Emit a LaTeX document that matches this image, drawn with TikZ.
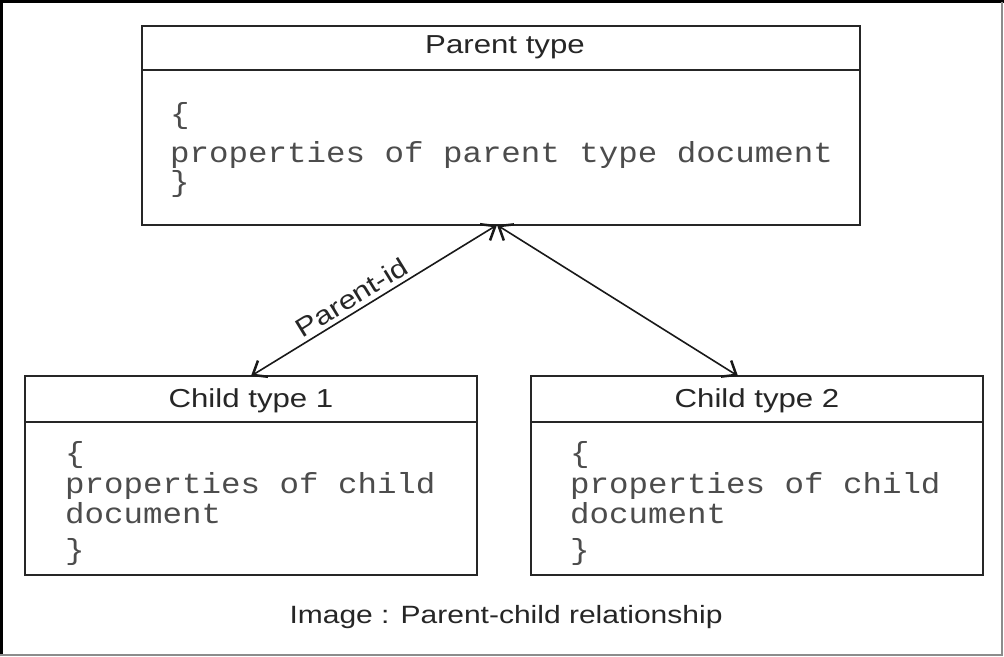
\documentclass[tikz,border=0pt]{standalone}
\usepackage{fontspec}
\setmainfont{Liberation Sans}[FakeStretch=1.2]
\newfontfamily\codefont{Liberation Mono}[FakeStretch=1.12]
\usetikzlibrary{arrows.meta,calc}

\tikzset{
  box/.style={draw=black!85, line width=2pt, outer sep=0pt, inner sep=0pt,
              minimum width=452pt, minimum height=199pt, anchor=north west},
  rule/.style={draw=black!85, line width=2pt},
  head/.style={anchor=base, text=black!85, inner sep=0pt,
               font=\fontsize{26}{30}\selectfont},
  code/.style={anchor=base west, text=black!70, inner sep=0pt,
               font=\codefont\fontsize{29}{34}\selectfont},
  conn/.style={draw=black!90, line width=1.6pt,
               {Straight Barb[length=12pt,width=19pt,line width=2.5pt]}-{Straight Barb[length=12pt,width=19pt,line width=2.5pt]}},
  lbl/.style={sloped, above, inner sep=4pt, text=black!85,
              font=\fontsize{26}{30}\selectfont}
}

\begin{document}
\begin{tikzpicture}[x=1pt,y=-1pt]
  \useasboundingbox (0,0) rectangle (1004,656);
  \fill[white] (0,0) rectangle (1004,656);

  % outer frame: dark on the left and top, light on the right and bottom
  \draw[black, line width=3pt] (1.5,656) -- (1.5,1.5) -- (1004,1.5);
  \draw[black!45, line width=2pt] (1002,1.5) -- (1002,655) -- (0,655);

  % parent type
  \node[box, minimum width=718pt] (parent) at (142,26) {};
  \draw[rule] ($(parent.north west)+(0,44)$) -- ($(parent.north east)+(0,44)$);
  \node[head] (parenthead) at (505,53) {Parent type};
  \node[code] (p1) at (170,123) {\{};
  \node[code] (p2) at (170,162) {properties of parent type document};
  \node[code] (p3) at (170,191) {\}};

  % child type 1
  \node[box] (child1) at (25,376) {};
  \draw[rule] ($(child1.north west)+(0,46)$) -- ($(child1.north east)+(0,46)$);
  \node[head] (c1head) at (251,407) {Child type 1};
  \node[code] (a1) at (65,462) {\{};
  \node[code] (a2) at (65,493) {properties of child};
  \node[code] (a3) at (65,523) {document};
  \node[code] (a4) at (65,559) {\}};

  % child type 2
  \node[box] (child2) at (531,376) {};
  \draw[rule] ($(child2.north west)+(0,46)$) -- ($(child2.north east)+(0,46)$);
  \node[head] (c2head) at (757,407) {Child type 2};
  \node[code] (b1) at (570,462) {\{};
  \node[code] (b2) at (570,493) {properties of child};
  \node[code] (b3) at (570,523) {document};
  \node[code] (b4) at (570,559) {\}};

  % relations
  \draw[conn] ([xshift=-4pt]parent.south) -- node[lbl, pos=0.56] {Parent-id} (child1.north);
  \draw[conn] ([xshift=-4pt]parent.south) -- ([xshift=-19pt]child2.north);

  % caption
  \node[head, font=\fontsize{25}{30}\selectfont] (caption) at (506,623) {Image : Parent-child relationship};
\end{tikzpicture}
\end{document}
